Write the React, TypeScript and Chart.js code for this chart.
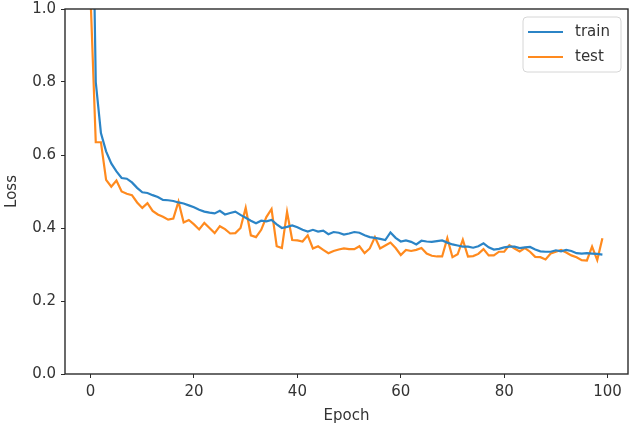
import React, { useEffect, useRef } from "react";
import { Chart, registerables } from "chart.js";

Chart.register(...registerables);

const epochs: number[] = Array.from({ length: 100 }, (_, i) => i);

const trainLoss: number[] = [
  1.68, 0.8, 0.66, 0.61, 0.577, 0.555, 0.537, 0.535, 0.525, 0.51,
  0.498, 0.496, 0.49, 0.485, 0.477, 0.476, 0.474, 0.47, 0.467, 0.462,
  0.457, 0.45, 0.445, 0.442, 0.44, 0.447, 0.437, 0.441, 0.445, 0.436,
  0.428, 0.42, 0.413, 0.42, 0.418, 0.422, 0.41, 0.4, 0.403, 0.407,
  0.402, 0.395, 0.39, 0.395, 0.39, 0.393, 0.383, 0.389, 0.387, 0.382,
  0.385, 0.389, 0.387, 0.38, 0.375, 0.373, 0.37, 0.367, 0.388, 0.373,
  0.363, 0.366, 0.362, 0.355, 0.365, 0.363, 0.362, 0.364, 0.366, 0.36,
  0.355, 0.352, 0.349, 0.349, 0.346, 0.35, 0.358, 0.347, 0.341, 0.343,
  0.347, 0.349, 0.349, 0.345, 0.347, 0.348, 0.341, 0.336, 0.335, 0.335,
  0.339, 0.336, 0.34, 0.337, 0.331, 0.33, 0.331, 0.33, 0.329, 0.327,
];

const testLoss: number[] = [
  1.03, 0.635, 0.635, 0.532, 0.513, 0.53, 0.5, 0.494, 0.49, 0.47,
  0.455, 0.468, 0.447, 0.437, 0.431, 0.423, 0.426, 0.472, 0.415, 0.422,
  0.41, 0.396, 0.414, 0.4, 0.386, 0.405, 0.397, 0.385, 0.386, 0.4,
  0.455, 0.38, 0.375, 0.395, 0.43, 0.452, 0.35, 0.345, 0.444, 0.367,
  0.366, 0.363, 0.38, 0.344, 0.35, 0.34, 0.331, 0.337, 0.341, 0.344,
  0.342, 0.342, 0.35, 0.331, 0.344, 0.375, 0.344, 0.352, 0.36, 0.345,
  0.326, 0.34, 0.337, 0.34, 0.345, 0.33, 0.324, 0.322, 0.322, 0.372,
  0.32, 0.328, 0.368, 0.322, 0.323, 0.329, 0.342, 0.325, 0.325, 0.335,
  0.335, 0.353, 0.344, 0.336, 0.345, 0.335, 0.321, 0.32, 0.314, 0.33,
  0.335, 0.34, 0.333, 0.325, 0.32, 0.312, 0.311, 0.349, 0.312, 0.372,
];

const xTicks: number[] = [0, 20, 40, 60, 80, 100];
const yTicks: number[] = [0, 0.2, 0.4, 0.6, 0.8, 1.0];
const seriesLabels: string[] = ["train", "test"];
const seriesColors: string[] = ["#2b84c6", "#ff8a1e"];

const FONT = "'DejaVu Sans', sans-serif";
const TEXT = "#333333";

const framePlugin = {
  id: "frame",
  afterDatasetsDraw(chart: any) {
    const { ctx, chartArea } = chart;
    ctx.save();
    ctx.strokeStyle = "#2b2b2b";
    ctx.lineWidth = 1.4;
    ctx.strokeRect(chartArea.left, chartArea.top, chartArea.right - chartArea.left, chartArea.bottom - chartArea.top);
    ctx.restore();
  },
};

const legendPlugin = {
  id: "mplLegend",
  afterDraw(chart: any) {
    const { ctx, chartArea } = chart;
    const w = 98;
    const h = 55;
    const x = chartArea.right - 7 - w;
    const y = chartArea.top + 8;
    ctx.save();
    ctx.beginPath();
    const r = 4;
    ctx.moveTo(x + r, y);
    ctx.lineTo(x + w - r, y);
    ctx.quadraticCurveTo(x + w, y, x + w, y + r);
    ctx.lineTo(x + w, y + h - r);
    ctx.quadraticCurveTo(x + w, y + h, x + w - r, y + h);
    ctx.lineTo(x + r, y + h);
    ctx.quadraticCurveTo(x, y + h, x, y + h - r);
    ctx.lineTo(x, y + r);
    ctx.quadraticCurveTo(x, y, x + r, y);
    ctx.closePath();
    ctx.fillStyle = "rgba(255,255,255,0.85)";
    ctx.fill();
    ctx.strokeStyle = "#d6d6d6";
    ctx.lineWidth = 1;
    ctx.stroke();
    chart.data.datasets.forEach((ds: any, i: number) => {
      const ly = y + 15 + i * 25;
      ctx.strokeStyle = ds.borderColor;
      ctx.lineWidth = 2.2;
      ctx.beginPath();
      ctx.moveTo(x + 5, ly);
      ctx.lineTo(x + 40, ly);
      ctx.stroke();
      ctx.fillStyle = TEXT;
      ctx.font = `15px ${FONT}`;
      ctx.textBaseline = "middle";
      ctx.textAlign = "left";
      ctx.fillText(ds.label, x + 52, ly);
    });
    ctx.restore();
  },
};

export default function App() {
  const canvasRef = useRef<HTMLCanvasElement | null>(null);

  useEffect(() => {
    const canvas = canvasRef.current;
    if (!canvas) return;
    const series = [trainLoss, testLoss];
    const chart = new Chart(canvas, {
      type: "line",
      data: {
        datasets: series.map((values, k) => ({
          label: seriesLabels[k],
          data: values.map((v, i) => ({ x: epochs[i], y: v })),
          borderColor: seriesColors[k],
          backgroundColor: seriesColors[k],
          borderWidth: 2.2,
          pointRadius: 0,
          tension: 0,
          fill: false,
        })),
      },
      options: {
        animation: false,
        responsive: false,
        devicePixelRatio: 1,
        layout: { padding: { left: 0, right: 4, top: 9, bottom: 0 } },
        plugins: {
          legend: { display: false },
          tooltip: { enabled: false },
        },
        scales: {
          x: {
            type: "linear",
            min: -4.95,
            max: 103.95,
            afterBuildTicks: (scale: any) => {
              scale.ticks = xTicks.map((v) => ({ value: v }));
            },
            afterFit: (scale: any) => {
              scale.height = 56;
              scale.paddingLeft = 0;
              scale.paddingRight = 0;
            },
            grid: {
              drawOnChartArea: false,
              drawTicks: true,
              tickLength: 4,
              tickColor: "#2b2b2b",
              color: "#2b2b2b",
            },
            border: { display: false },
            ticks: {
              color: TEXT,
              font: { family: FONT, size: 15 },
              padding: 5,
              maxRotation: 0,
              callback: (v: any) => String(v),
            },
            title: {
              display: true,
              text: "Epoch",
              color: TEXT,
              font: { family: FONT, size: 15 },
              padding: { top: 0, bottom: 5 },
            },
          },
          y: {
            type: "linear",
            min: 0,
            max: 1,
            afterBuildTicks: (scale: any) => {
              scale.ticks = yTicks.map((v) => ({ value: v }));
            },
            afterFit: (scale: any) => {
              scale.width = 65;
              scale.paddingTop = 0;
              scale.paddingBottom = 0;
            },
            grid: {
              drawOnChartArea: false,
              drawTicks: true,
              tickLength: 4,
              tickColor: "#2b2b2b",
              color: "#2b2b2b",
            },
            border: { display: false },
            ticks: {
              color: TEXT,
              font: { family: FONT, size: 15 },
              padding: 5,
              callback: (v: any) => Number(v).toFixed(1),
            },
            title: {
              display: true,
              text: "Loss",
              color: TEXT,
              font: { family: FONT, size: 15 },
              padding: { top: 3, bottom: 0 },
            },
          },
        },
      },
      plugins: [framePlugin, legendPlugin],
    } as any);
    return () => chart.destroy();
  }, []);

  return (
    <div style={{ position: "absolute", left: 0, top: 0, width: 632, height: 430, background: "#fff" }}>
      <canvas ref={canvasRef} width={632} height={430} />
    </div>
  );
}
